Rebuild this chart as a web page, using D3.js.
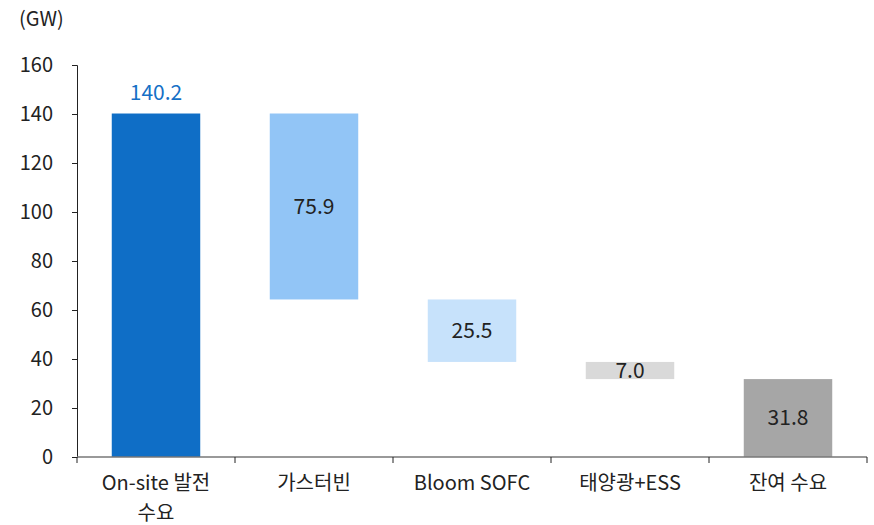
<!DOCTYPE html>
<html>
<head>
<meta charset="utf-8">
<script src="https://cdn.jsdelivr.net/npm/d3@7"></script>
<style>
  body { margin: 0; background: #fff; }
  text { font-family: "Noto Sans CJK KR", "Noto Sans", sans-serif; }
</style>
</head>
<body>
<div id="chart"></div>
<script>
// data
const categories = ["On-site 발전 수요", "가스터빈", "Bloom SOFC", "태양광+ESS", "잔여 수요"];
const values = [140.2, 75.9, 25.5, 7.0, 31.8];
const kinds = ["total", "minus", "minus", "minus", "total"];
const yTicks = [0, 20, 40, 60, 80, 100, 120, 140, 160];
const barColors = ["#0F6EC6", "#92C5F6", "#C7E2FB", "#D9D9D9", "#A6A6A6"];

const W = 874, H = 525;
const m = {left: 77, right: 7, top: 65, bottom: 68};

const svg = d3.select("#chart").append("svg").attr("width", W).attr("height", H);

const x = d3.scaleBand().domain(categories).range([m.left, W - m.right])
  .paddingInner(0.44).paddingOuter(0.22);
const y = d3.scaleLinear().domain([0, 160]).range([H - m.bottom, m.top]);

// waterfall spans
let running = 0;
const bars = categories.map(function(c, i) {
  let lo, hi;
  if (kinds[i] === "total") { lo = 0; hi = values[i]; running = values[i]; }
  else { hi = running; lo = running - values[i]; running = lo; }
  return {cat: c, v: values[i], lo: lo, hi: hi, color: barColors[i], i: i};
});

svg.selectAll("rect.bar").data(bars).enter().append("rect")
  .attr("class", "bar")
  .attr("x", d => x(d.cat))
  .attr("width", x.bandwidth())
  .attr("y", d => y(d.hi))
  .attr("height", d => y(d.lo) - y(d.hi))
  .attr("fill", d => d.color);

// value labels
svg.selectAll("text.val").data(bars).enter().append("text")
  .attr("class", "val")
  .attr("x", d => x(d.cat) + x.bandwidth() / 2)
  .attr("y", d => d.i === 0 ? y(d.hi) - 21 : y((d.lo + d.hi) / 2))
  .attr("dy", "0.35em")
  .attr("text-anchor", "middle")
  .attr("font-size", 21)
  .attr("fill", d => d.i === 0 ? "#1570C6" : "#222")
  .text(d => d.v.toFixed(1));

// y axis
const yAxis = svg.append("g").attr("transform", "translate(" + m.left + ",0)")
  .call(d3.axisLeft(y).tickValues(yTicks).tickSize(5).tickPadding(19));
yAxis.select(".domain").attr("stroke", "#222");
yAxis.selectAll(".tick line").attr("stroke", "#222");
yAxis.selectAll(".tick text").attr("font-size", 20).attr("fill", "#222")
  .attr("font-family", "\"Noto Sans CJK KR\", sans-serif");

// x axis
const xg = svg.append("g").attr("transform", "translate(0," + y(0) + ")");
xg.append("line").attr("x1", m.left).attr("x2", W - m.right)
  .attr("stroke", "#777").attr("stroke-width", 1.5);
const step = x.step();
const bounds = categories.map((c, i) => x(c) - x.paddingInner() * step / 2 + step);
bounds.unshift(m.left);
xg.selectAll("line.tk").data(bounds).enter().append("line")
  .attr("class", "tk")
  .attr("x1", d => d).attr("x2", d => d)
  .attr("y1", 0).attr("y2", 6)
  .attr("stroke", "#222");

// category labels (wrap first one)
const labelLines = [["On-site 발전", "수요"], ["가스터빈"], ["Bloom SOFC"], ["태양광+ESS"], ["잔여 수요"]];
categories.forEach(function(c, i) {
  const t = svg.append("text")
    .attr("x", x(c) + x.bandwidth() / 2)
    .attr("y", y(0) + 33)
    .attr("text-anchor", "middle")
    .attr("font-size", 20)
    .attr("fill", "#222");
  labelLines[i].forEach(function(s, j) {
    t.append("tspan").attr("x", x(c) + x.bandwidth() / 2).attr("dy", j === 0 ? 0 : 30).text(s);
  });
});

// unit
svg.append("text").attr("x", 19).attr("y", 26).attr("font-size", 20).attr("fill", "#222").text("(GW)");
</script>
</body>
</html>
